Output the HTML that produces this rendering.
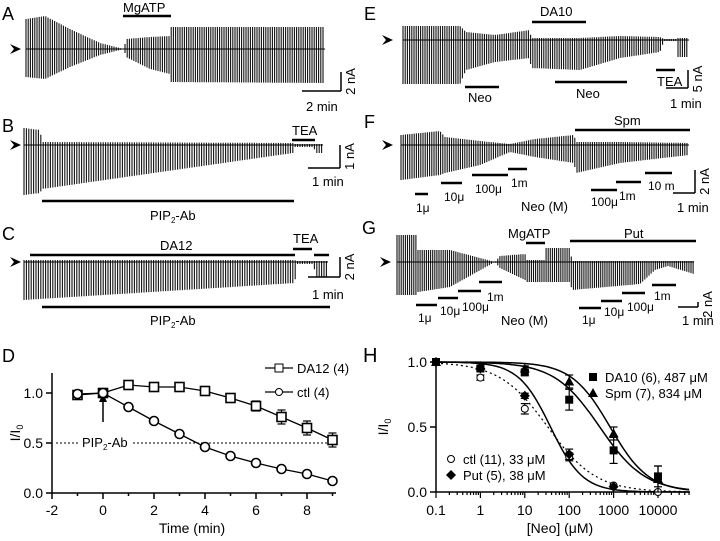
<!DOCTYPE html>
<html><head><meta charset="utf-8"><style>
html,body{margin:0;padding:0;background:#fff;}
svg{display:block;font-family:"Liberation Sans",Arial,sans-serif;}
</style></head><body>
<svg id="fig" width="720" height="541" viewBox="0 0 720 541"></svg>
<script>
// ---------- trace envelopes: [x, upAmp, downAmp] ----------
const traceA = [[26,30,28],[45,33,30],[70,20,18],[100,6,6],[124,0,0],[126,10,8],[150,12,20],[170,13,25],[171,22,33],[325,22,34]];
const traceB = [[24,17,50],[40,15,48],[42,3,44],[293,2,8],[294,1,2],[314,1,2],[315,1,8],[323,1,8]];
const traceC = [[24,2,38],[295,2,21],[296,1,2],[314,1,2],[315,1,15],[328,1,15]];
const traceE = [[403,14,44],[460,14,44],[466,8,30],[495,5,22],[530,10,18],[531,2,28],[580,2,30],[620,4,18],[660,3,12],[664,1,1],[676,1,1],[677,2,17],[689,2,17]];
const traceF = [[401,10,35],[440,14,30],[445,8,28],[480,4,20],[510,1,7],[535,6,12],[574,10,18],[576,3,28],[620,3,18],[689,2,10]];
const traceG = [[397,27,33],[417,27,33],[418,12,30],[450,12,25],[495,0,0],[500,6,6],[525,8,18],[527,2,20],[545,2,20],[546,14,20],[570,14,20],[572,1,28],[640,1,22],[655,1,8],[668,1,4],[694,1,12]];
// ---------- panel D ----------
const dTime = [-1,0,1,2,3,4,5,6,7,8,9];
const dDA12 = [0.98,1.0,1.08,1.06,1.06,1.02,0.95,0.87,0.76,0.65,0.53];
const dDA12Err = [0.03,0.02,0.02,0.02,0.02,0.02,0.03,0.05,0.07,0.07,0.07];
const dCtl = [0.99,1.0,0.86,0.72,0.59,0.46,0.37,0.30,0.24,0.19,0.12];
const dCtlErr = [0.03,0.02,0.02,0.02,0.02,0.02,0.02,0.02,0.02,0.02,0.01];
const dXTicks = [-2,0,2,4,6,8];
const dYTicks = [0.0,0.5,1.0];
// ---------- panel H ----------
const hConc = [0.1,1,10,100,1000,10000];
const hCtl = [1.0,0.88,0.64,0.27,0.05,0.0];
const hCtlErr = [0,0.02,0.04,0.03,0.01,0.01];
const hPut = [1.0,0.95,0.74,0.29,0.04];
const hPutErr = [0,0.02,0.02,0.04,0.01];
const hDA10 = [1.0,0.95,0.92,0.71,0.32,0.12];
const hDA10Err = [0,0.02,0.02,0.08,0.10,0.08];
const hSpm = [1.0,0.97,0.95,0.85,0.45,0.10];
const hSpmErr = [0,0.02,0.02,0.05,0.05,0.10];
const hIC50 = [33,38,487,834];
const hHill = [0.8,1.2,0.85,1.0];
const hXTicks = [0.1,1,10,100,1000,10000];
const hYTicks = [0.0,0.5,1.0];

const svg=document.getElementById('fig');
const NS='http://www.w3.org/2000/svg';
function mk(tag,attrs,parent){const e=document.createElementNS(NS,tag);for(const k in attrs)e.setAttribute(k,attrs[k]);(parent||svg).appendChild(e);return e;}
function line(x1,y1,x2,y2,w,name,dash){const e=mk('line',{x1,y1,x2,y2,stroke:'#000','stroke-width':w||1});if(dash)e.setAttribute('stroke-dasharray',dash);

return e;}
function text(x,y,s,size,name,anchor,rot){const e=mk('text',{x,y,'font-size':size||13,fill:'#000'});if(anchor)e.setAttribute('text-anchor',anchor);if(rot)e.setAttribute('transform','rotate('+rot+' '+x+' '+y+')');e.innerHTML=s;

return e;}
function bar(x1,x2,y,name){return line(x1,y,x2,y,2.5,name);}
function arrowhead(x,y){const p=mk('path',{d:`M${x} ${y-5} L${x+11} ${y} L${x} ${y+5} L${x+4} ${y} Z`,fill:'#000'});

}
function env(pts,x){for(let i=0;i<pts.length-1;i++){const a=pts[i],b=pts[i+1];if(x>=a[0]&&x<=b[0]){const t=(x-a[0])/((b[0]-a[0])||1);return [a[1]+(b[1]-a[1])*t,a[2]+(b[2]-a[2])*t];}}return [0,0];}
function trace(pts,y0,name,step){const g=mk('g',{});


let d='';const x0=pts[0][0],x1=pts[pts.length-1][0];
for(let x=x0;x<=x1;x+=step){const [u,dn]=env(pts,x);d+=`M${x.toFixed(1)} ${(y0-u).toFixed(1)}V${(y0+dn).toFixed(1)}`;}
mk('path',{d,stroke:'#111','stroke-width':1.1,fill:'none'},g);
mk('line',{x1:x0,y1:y0,x2:x1,y2:y0,stroke:'#000','stroke-width':1},g);}
function scalebar(x,yTop,yBot,xLeft,vLabel,hLabel,ty){line(x,yTop,x,yBot,1.5,'scale-bar-vertical');line(xLeft,yBot,x,yBot,1.5,'scale-bar-horizontal');
text(x+14,(yTop+yBot)/2,vLabel,13,'scale-bar-current-label','middle',-90);text(xLeft+4,ty,hLabel,13,'scale-bar-time-label');}

// Panel A
text(2,20,'A',18,'panel-label-a');
arrowhead(10,49);trace(traceA,49,'trace-a',2.2);
bar(123,171,16,'mgatp-bar-a');text(123,12,'MgATP',13,'mgatp-label-a');
scalebar(341,72,91,302,'2 nA','2 min',111);
// Panel B
text(2,132,'B',18,'panel-label-b');
arrowhead(10,145);trace(traceB,145,'trace-b',2.4);
bar(292,315,140,'tea-bar-b');text(292,135,'TEA',13,'tea-label-b');
bar(42,294,201,'pip2-ab-bar-b');text(150,220,'PIP<tspan font-size="8" dy="3">2</tspan><tspan dy="-3">-Ab</tspan>',13,'pip2-ab-label-b');
scalebar(340,145,168,308,'1 nA','1 min',186);
// Panel C
text(2,240,'C',18,'panel-label-c');
arrowhead(10,262);trace(traceC,262,'trace-c',2.4);
bar(30,295,255,'da12-bar-c');text(160,250,'DA12',13,'da12-label-c');
bar(293,312,249,'tea-bar-c1');bar(314,329,255,'tea-bar-c2');text(293,243,'TEA',13,'tea-label-c');
scalebar(340,257,277,308,'2 nA','1 min',299);
bar(42,330,307,'pip2-ab-bar-c');text(150,325,'PIP<tspan font-size="8" dy="3">2</tspan><tspan dy="-3">-Ab</tspan>',13,'pip2-ab-label-c');
// Panel E
text(364,20,'E',18,'panel-label-e');
arrowhead(382,40);trace(traceE,40,'trace-e',2.2);
bar(532,586,22,'da10-bar-e');text(540,16,'DA10',13,'da10-label-e');
bar(465,499,87,'neo-bar-e1');text(468,102,'Neo',13,'neo-label-e1');
bar(555,627,82,'neo-bar-e2');text(576,98,'Neo',13,'neo-label-e2');
bar(656,675,70,'tea-bar-e');text(657,86,'TEA',13,'tea-label-e');
scalebar(688,70,88,666,'5 nA','1 min',108);
// Panel F
text(364,128,'F',18,'panel-label-f');
arrowhead(382,145);trace(traceF,145,'trace-f',2.2);
bar(575,690,130,'spm-bar-f');text(614,125,'Spm',13,'spm-label-f');
const fBars=[[415,428,194,'1μ',416,212],[441,462,183,'10μ',444,201],[472,508,175,'100μ',475,193],[508,527,169,'1m',511,187],[591,617,190,'100μ',591,206],[616,641,182,'1m',619,200],[645,672,173,'10 m',648,190]];
fBars.forEach((b,i)=>{bar(b[0],b[1],b[2],'neo-conc-bar-f');text(b[4],b[5],b[3],12,'neo-conc-label-f');});
text(521,211,'Neo (M)',13,'neo-m-label-f');
scalebar(695,170,193,673,'2 nA','1 min',212);
// Panel G
text(362,234,'G',18,'panel-label-g');
arrowhead(380,262);trace(traceG,262,'trace-g',2.1);
bar(526,545,243,'mgatp-bar-g');text(508,238,'MgATP',13,'mgatp-label-g');
bar(570,696,241,'put-bar-g');text(624,238,'Put',13,'put-label-g');
const gBars=[[416,437,305,'1μ',418,322],[438,458,298,'10μ',440,315],[458,481,291,'100μ',462,311],[479,502,282,'1m',487,301],[579,601,308,'1μ',582,324],[601,622,301,'10μ',604,316],[622,645,293,'100μ',627,311],[652,676,285,'1m',654,300]];
gBars.forEach(b=>{bar(b[0],b[1],b[2],'neo-conc-bar-g');text(b[4],b[5],b[3],12,'neo-conc-label-g');});
text(501,325,'Neo (M)',13,'neo-m-label-g');
scalebar(698,302,307,678,'2 nA','1 min',325);

// ---------- Panel D chart ----------
const dx=t=>103+t*25.5, dy=v=>493-v*100;
text(2,362,'D',18,'panel-label-d');
line(52,373,52,493,1.5,'d-y-axis');line(52,493,336,493,1.5,'d-x-axis');
dYTicks.forEach(v=>{line(46,dy(v),52,dy(v),1.5,'d-y-tick');text(43,dy(v)+5,v.toFixed(1),14,'d-y-tick-label','end');});
for(let t=-2;t<=10;t++){if(dx(t)>336)break;line(dx(t),493,dx(t),t%2===0?499:496,1.5,'d-x-tick');}
dXTicks.forEach(t=>text(dx(t),515,String(t),14,'d-x-tick-label','middle'));
text(192,533,'Time (min)',14,'d-x-axis-title','middle');
text(20,433,'I/I<tspan font-size="9" dy="3">0</tspan>',14,'d-y-axis-title','middle',-90);
line(56,dy(0.5),80,dy(0.5),1,'d-half-line-left','2,2');line(133,dy(0.5),333,dy(0.5),1,'d-half-line','2,2');
text(82,447,'PIP<tspan font-size="8" dy="3">2</tspan><tspan dy="-3">-Ab</tspan>',13,'pip2-ab-arrow-label');
line(103,422,103,400,1.5,'pip2-ab-arrow');
const ah=mk('path',{d:'M99 402 L103 393 L107 402 Z',fill:'#000'});


function series(xs,ys,errs,xf,yf,marker,name,dash){let d='';ys.forEach((v,i)=>{d+=(i?'L':'M')+xf(xs[i])+' '+yf(v);});
const p=mk('path',{d,fill:'none',stroke:'#000','stroke-width':1.3});if(dash)p.setAttribute('stroke-dasharray',dash);


ys.forEach((v,i)=>{const x=xf(xs[i]);if(errs&&errs[i]>0.015){line(x,yf(v+errs[i]),x,yf(v-errs[i]),1.2,name+'-error-bar');line(x-4,yf(v+errs[i]),x+4,yf(v+errs[i]),1.2,name+'-error-cap');line(x-4,yf(v-errs[i]),x+4,yf(v-errs[i]),1.2,name+'-error-cap');}
marker(x,yf(v),name+'-point');});}
function sqO(x,y,n){const e=mk('rect',{x:x-4.5,y:y-4.5,width:9,height:9,fill:'#fff',stroke:'#000','stroke-width':1.6});

}
function cirO(x,y,n){const e=mk('circle',{cx:x,cy:y,r:4.5,fill:'#fff',stroke:'#000','stroke-width':1.6});

}
function sqF(x,y,n){const e=mk('rect',{x:x-4,y:y-4,width:8,height:8,fill:'#000'});

}
function triF(x,y,n){const e=mk('path',{d:`M${x} ${y-5} L${x+5} ${y+4} L${x-5} ${y+4} Z`,fill:'#000'});

}
function diaF(x,y,n){const e=mk('path',{d:`M${x} ${y-5} L${x+5} ${y} L${x} ${y+5} L${x-5} ${y} Z`,fill:'#000'});

}
function cirS(x,y,n){const e=mk('circle',{cx:x,cy:y,r:3.5,fill:'#fff',stroke:'#000','stroke-width':1});

}
series(dTime,dDA12,dDA12Err,dx,dy,sqO,'da12-series');
series(dTime,dCtl,dCtlErr,dx,dy,cirO,'ctl-series');
line(265,368,293,368,1.3,'legend-da12-line');{const e=mk('rect',{x:275,y:364,width:8,height:8,fill:'#fff',stroke:'#000'});}
text(297,373,'DA12 (4)',13,'legend-da12-label');
line(265,392,293,392,1.3,'legend-ctl-line');{const e=mk('circle',{cx:279,cy:392,r:3.5,fill:'#fff',stroke:'#000'});}
text(297,397,'ctl (4)',13,'legend-ctl-label');

// ---------- Panel H chart ----------
const hx=c=>436+(Math.log10(c)+1)*44.4, hy=v=>492-v*130;
text(363,362,'H',20,'panel-label-h');
line(436,362,436,492,1.5,'h-y-axis');line(436,492,690,492,1.5,'h-x-axis');
hYTicks.forEach(v=>{line(430,hy(v),436,hy(v),1.5,'h-y-tick');text(427,hy(v)+5,v.toFixed(1),14,'h-y-tick-label','end');});
for(let e=-1;e<=4;e++){for(let m=1;m<=9;m++){const c=m*Math.pow(10,e);if(hx(c)>690)break;line(hx(c),492,hx(c),m===1?498:495,1.2,'h-x-tick');}}
hXTicks.forEach(c=>text(hx(c),515,String(c),14,'h-x-tick-label','middle'));
text(560,533,'[Neo] (μM)',14,'h-x-axis-title','middle');
text(388,427,'I/I<tspan font-size="9" dy="3">0</tspan>',14,'h-y-axis-title','middle',-90);
function hill(ic,n,name,dash){let d='';for(let i=0;i<=120;i++){const lc=-1+i*(5.7/120);const c=Math.pow(10,lc);const v=1/(1+Math.pow(c/ic,n));d+=(i?'L':'M')+hx(c).toFixed(1)+' '+hy(v).toFixed(1);}
const p=mk('path',{d,fill:'none',stroke:'#000','stroke-width':dash?1.2:1.5});if(dash)p.setAttribute('stroke-dasharray',dash);

}
hill(hIC50[0],hHill[0],'ctl-fit-curve','2,3');hill(hIC50[1],hHill[1],'put-fit-curve');hill(hIC50[2],hHill[2],'da10-fit-curve');hill(hIC50[3],hHill[3],'spm-fit-curve');
function pts(ys,errs,marker,name){ys.forEach((v,i)=>{const x=hx(hConc[i]);if(errs[i]>0.015){line(x,hy(v+errs[i]),x,hy(v-errs[i]),1.2,name+'-error-bar');line(x-4,hy(v+errs[i]),x+4,hy(v+errs[i]),1.2,name+'-error-cap');line(x-4,hy(v-errs[i]),x+4,hy(v-errs[i]),1.2,name+'-error-cap');}marker(x,hy(v),name+'-point');});}
pts(hCtl,hCtlErr,cirS,'ctl');pts(hDA10,hDA10Err,sqF,'da10');pts(hSpm,hSpmErr,triF,'spm');pts(hPut,hPutErr,diaF,'put');
sqF(593,377,'legend-da10-marker');text(605,382,'DA10 (6),  487 μM',13,'legend-da10-label');
triF(593,393,'legend-spm-marker');text(605,398,'Spm (7),  834 μM',13,'legend-spm-label');
cirS(451,459,'legend-ctl-marker');text(463,464,'ctl (11), 33 μM',13,'legend-ctl-h-label');
diaF(451,475,'legend-put-marker');text(463,480,'Put (5), 38 μM',13,'legend-put-label');
</script>
</body></html>
